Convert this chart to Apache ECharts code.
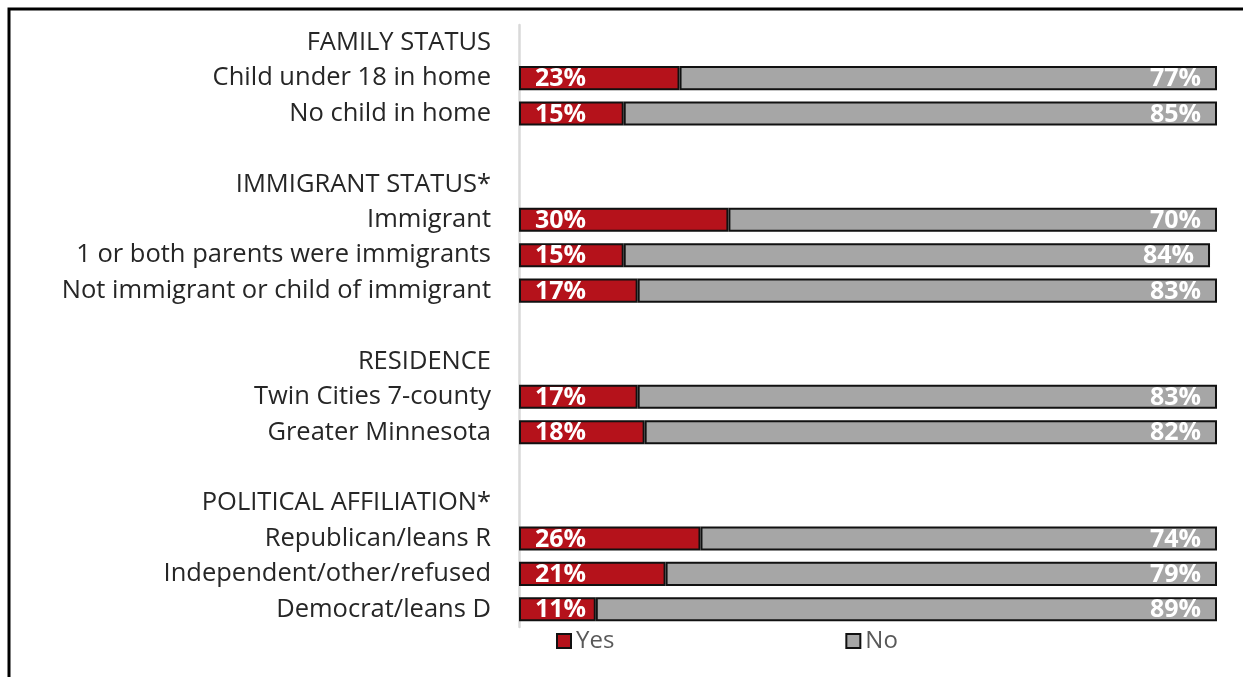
<!DOCTYPE html>
<html>
<head>
<meta charset="utf-8">
<script src="https://cdn.jsdelivr.net/npm/echarts@6/dist/echarts.min.js"></script>
<style>
  html, body { margin: 0; padding: 0; background: #fff; }
  #chart { width: 1244px; height: 677px; }
</style>
</head>
<body>
<div id="chart"></div>
<script>
// Row labels: group headers, members, and blank spacer rows
const categories = [
  'FAMILY STATUS',
  'Child under 18 in home',
  'No child in home',
  '',
  'IMMIGRANT STATUS*',
  'Immigrant',
  '1 or both parents were immigrants',
  'Not immigrant or child of immigrant',
  ' ',
  'RESIDENCE',
  'Twin Cities 7-county',
  'Greater Minnesota',
  '  ',
  'POLITICAL AFFILIATION*',
  'Republican/leans R',
  'Independent/other/refused',
  'Democrat/leans D'
];
// Percent answering Yes / No (null for header and spacer rows)
const yesValues = [null, 23, 15, null, null, 30, 15, 17, null, null, 17, 18, null, null, 26, 21, 11];
const noValues  = [null, 77, 85, null, null, 70, 84, 83, null, null, 83, 82, null, null, 74, 79, 89];
const seriesNames = ['Yes', 'No'];

const chart = echarts.init(document.getElementById('chart'), null, { renderer: 'canvas' });
const FONT = '"Open Sans", "Noto Sans", sans-serif';
const fmt = p => (p.value == null ? '' : p.value + '%');

chart.setOption({
  animation: false,
  backgroundColor: '#ffffff',
  grid: { left: 519, right: 27, top: 25, bottom: 50, containLabel: false },
  xAxis: {
    type: 'value', min: 0, max: 100, show: false
  },
  yAxis: {
    type: 'category',
    inverse: true,
    data: categories,
    axisLine: { show: true, lineStyle: { color: '#d9d9d9', width: 2.5 } },
    axisTick: { show: false },
    axisLabel: {
      margin: 28,
      color: '#262626',
      fontFamily: FONT,
      fontSize: 25.5,
      interval: 0
    }
  },
  legend: {
    data: seriesNames,
    left: 551,
    top: 624,
    itemGap: 231,
    itemWidth: 14,
    itemHeight: 14,
    icon: 'rect',
    textStyle: { color: '#595959', fontFamily: FONT, fontSize: 24, padding: [0, 0, 0, 0] }
  },
  series: [
    {
      name: seriesNames[0],
      type: 'bar',
      stack: 'total',
      data: yesValues,
      barCategoryGap: '32%',
      itemStyle: { color: '#b5121b', borderColor: '#111', borderWidth: 2 },
      label: {
        show: true, position: 'insideLeft', offset: [11, 1],
        formatter: fmt,
        color: '#ffffff', fontFamily: FONT, fontWeight: 'bold', fontSize: 25
      }
    },
    {
      name: seriesNames[1],
      type: 'bar',
      stack: 'total',
      data: noValues,
      itemStyle: { color: '#a6a6a6', borderColor: '#111', borderWidth: 2 },
      label: {
        show: true, position: 'insideRight', offset: [-11, 1],
        formatter: fmt,
        color: '#ffffff', fontFamily: FONT, fontWeight: 'bold', fontSize: 25
      }
    }
  ],
  graphic: [
    // frame around the chart area
    {
      type: 'polyline',
      shape: { points: [[9, 700], [9, 9], [1243, 9]] },
      style: { stroke: '#000', lineWidth: 3, fill: null }
    }
  ]
});
</script>
</body>
</html>
